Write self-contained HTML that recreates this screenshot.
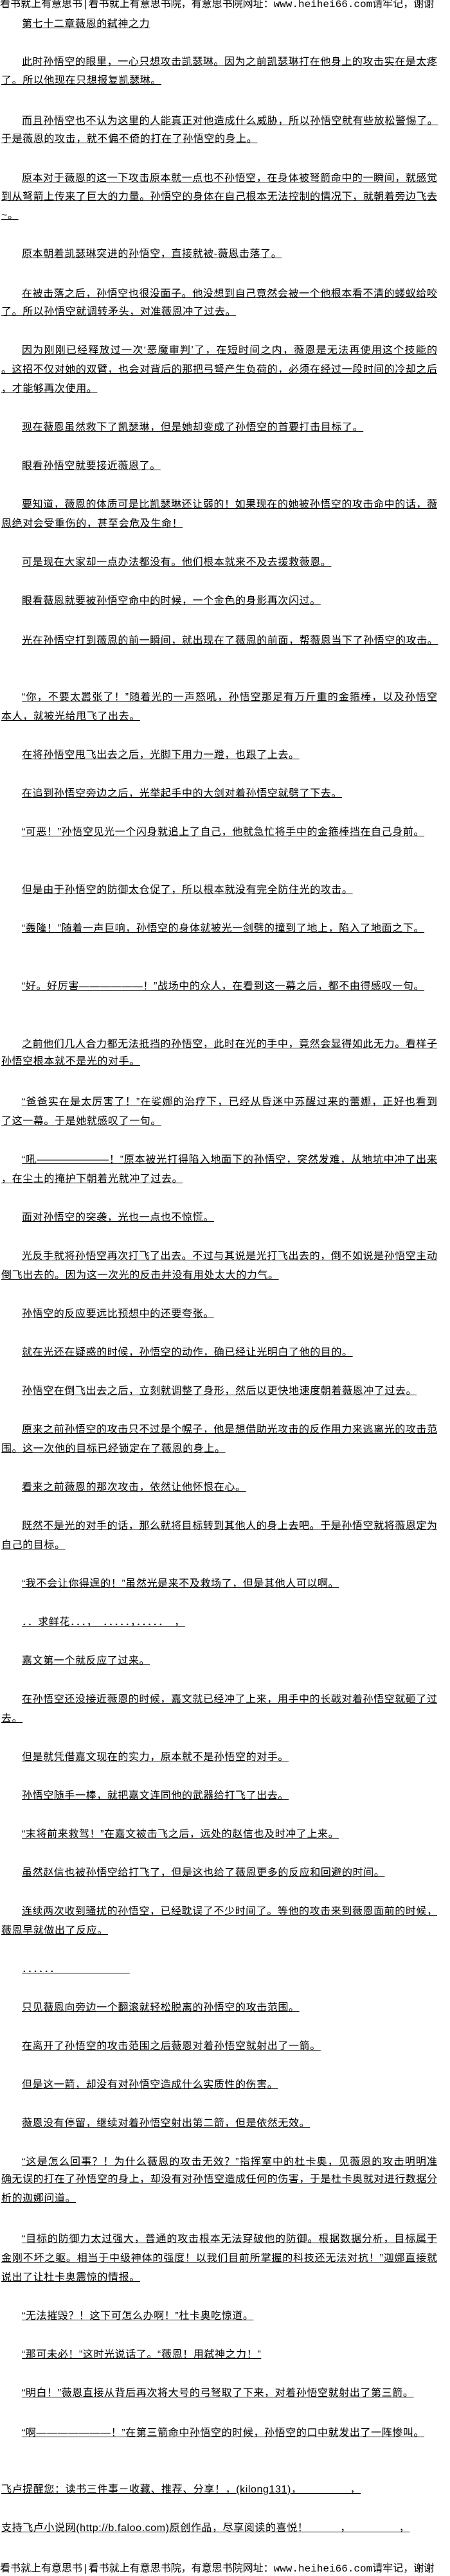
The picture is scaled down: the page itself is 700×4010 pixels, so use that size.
<!DOCTYPE html>
<html><head><meta charset="utf-8">
<style>
html,body{margin:0;padding:0;background:#fff;}
body{width:700px;height:4010px;position:relative;overflow:hidden;}
.l{position:absolute;font-size:16px;line-height:18px;height:19px;font-family:"Liberation Sans","Noto Sans CJK SC",sans-serif;color:#000;text-decoration:underline;white-space:nowrap;letter-spacing:0.6px;}
.i{left:34px;}
.n{left:2px;}
.f{white-space:normal;overflow:hidden;text-align:justify;text-align-last:justify;letter-spacing:0;}
.i.f{width:646px;}
.n.f{width:678px;}
.h{position:absolute;left:0;width:760px;font-size:16px;line-height:18px;font-family:"Liberation Mono","Noto Sans CJK SC",monospace;white-space:nowrap;color:#000;}
</style></head><body>
<div class="h" style="top:-2px">看书就上有意思书|看书就上有意思书院，有意思书院网址：www.heihei66.com请牢记，谢谢</div>
<div class="l i" style="top:29px">第七十二章薇恩的弑神之力</div>
<div class="l i f" style="top:88px">此时孙悟空的眼里，一心只想攻击凯瑟琳。因为之前凯瑟琳打在他身上的攻击实在是太疼</div>
<div class="l n" style="top:117px">了。所以他现在只想报复凯瑟琳。</div>
<div class="l i" style="top:180px">而且孙悟空也不认为这里的人能真正对他造成什么威胁，所以孙悟空就有些放松警惕了。</div>
<div class="l n" style="top:208px">于是薇恩的攻击，就不偏不倚的打在了孙悟空的身上。</div>
<div class="l i f" style="top:269px">原本对于薇恩的这一下攻击原本就一点也不孙悟空，在身体被弩箭命中的一瞬间，就感觉</div>
<div class="l n f" style="top:298px">到从弩箭上传来了巨大的力量。孙悟空的身体在自己根本无法控制的情况下，就朝着旁边飞去</div>
<div class="l n" style="top:327px">~。</div>
<div class="l i" style="top:387px">原本朝着凯瑟琳突进的孙悟空，直接就被-薇恩击落了。</div>
<div class="l i f" style="top:449px">在被击落之后，孙悟空也很没面子。他没想到自己竟然会被一个他根本看不清的蝼蚁给咬</div>
<div class="l n" style="top:477px">了。所以孙悟空就调转矛头，对准薇恩冲了过去。</div>
<div class="l i f" style="top:537px">因为刚刚已经释放过一次‘恶魔审判’了，在短时间之内，薇恩是无法再使用这个技能的</div>
<div class="l n f" style="top:567px">。这招不仅对她的双臂，也会对背后的那把弓弩产生负荷的，必须在经过一段时间的冷却之后</div>
<div class="l n" style="top:597px">，才能够再次使用。</div>
<div class="l i" style="top:657px">现在薇恩虽然救下了凯瑟琳，但是她却变成了孙悟空的首要打击目标了。</div>
<div class="l i" style="top:717px">眼看孙悟空就要接近薇恩了。</div>
<div class="l i f" style="top:777px">要知道，薇恩的体质可是比凯瑟琳还让弱的！如果现在的她被孙悟空的攻击命中的话，薇</div>
<div class="l n" style="top:807px">恩绝对会受重伤的，甚至会危及生命！</div>
<div class="l i" style="top:867px">可是现在大家却一点办法都没有。他们根本就来不及去援救薇恩。</div>
<div class="l i" style="top:927px">眼看薇恩就要被孙悟空命中的时候，一个金色的身影再次闪过。</div>
<div class="l i" style="top:989px">光在孙悟空打到薇恩的前一瞬间，就出现在了薇恩的前面，帮薇恩当下了孙悟空的攻击。</div>
<div class="l i f" style="top:1077px">“你，不要太嚣张了！”随着光的一声怒吼，孙悟空那足有万斤重的金箍棒，以及孙悟空</div>
<div class="l n" style="top:1107px">本人，就被光给甩飞了出去。</div>
<div class="l i" style="top:1167px">在将孙悟空甩飞出去之后，光脚下用力一蹬，也跟了上去。</div>
<div class="l i" style="top:1227px">在追到孙悟空旁边之后，光举起手中的大剑对着孙悟空就劈了下去。</div>
<div class="l i" style="top:1287px">“可恶！”孙悟空见光一个闪身就追上了自己，他就急忙将手中的金箍棒挡在自己身前。</div>
<div class="l i" style="top:1377px">但是由于孙悟空的防御太仓促了，所以根本就没有完全防住光的攻击。</div>
<div class="l i" style="top:1437px">“轰隆！”随着一声巨响，孙悟空的身体就被光一剑劈的撞到了地上，陷入了地面之下。</div>
<div class="l i" style="top:1527px">“好。好厉害——————！”战场中的众人，在看到这一幕之后，都不由得感叹一句。</div>
<div class="l i f" style="top:1617px">之前他们几人合力都无法抵挡的孙悟空，此时在光的手中，竟然会显得如此无力。看样子</div>
<div class="l n" style="top:1644px">孙悟空根本就不是光的对手。</div>
<div class="l i f" style="top:1707px">“爸爸实在是太厉害了！”在娑娜的治疗下，已经从昏迷中苏醒过来的蕾娜，正好也看到</div>
<div class="l n" style="top:1737px">了这一幕。于是她就感叹了一句。</div>
<div class="l i f" style="top:1797px">“吼———————！”原本被光打得陷入地面下的孙悟空，突然发难，从地坑中冲了出来</div>
<div class="l n" style="top:1827px">，在尘土的掩护下朝着光就冲了过去。</div>
<div class="l i" style="top:1887px">面对孙悟空的突袭，光也一点也不惊慌。</div>
<div class="l i f" style="top:1947px">光反手就将孙悟空再次打飞了出去。不过与其说是光打飞出去的，倒不如说是孙悟空主动</div>
<div class="l n" style="top:1977px">倒飞出去的。因为这一次光的反击并没有用处太大的力气。</div>
<div class="l i" style="top:2037px">孙悟空的反应要远比预想中的还要夸张。</div>
<div class="l i" style="top:2097px">就在光还在疑惑的时候，孙悟空的动作，确已经让光明白了他的目的。</div>
<div class="l i" style="top:2157px">孙悟空在倒飞出去之后，立刻就调整了身形，然后以更快地速度朝着薇恩冲了过去。</div>
<div class="l i f" style="top:2217px">原来之前孙悟空的攻击只不过是个幌子，他是想借助光攻击的反作用力来逃离光的攻击范</div>
<div class="l n" style="top:2247px">围。这一次他的目标已经锁定在了薇恩的身上。</div>
<div class="l i" style="top:2307px">看来之前薇恩的那次攻击，依然让他怀恨在心。</div>
<div class="l i f" style="top:2367px">既然不是光的对手的话，那么就将目标转到其他人的身上去吧。于是孙悟空就将薇恩定为</div>
<div class="l n" style="top:2397px">自己的目标。</div>
<div class="l i" style="top:2457px">“我不会让你得逞的！”虽然光是来不及救场了，但是其他人可以啊。</div>
<div class="l i" style="top:2517px">．．求鲜花．．．，　．．．．．，．．．．．　，</div>
<div class="l i" style="top:2577px">嘉文第一个就反应了过来。</div>
<div class="l i f" style="top:2637px">在孙悟空还没接近薇恩的时候，嘉文就已经冲了上来，用手中的长戟对着孙悟空就砸了过</div>
<div class="l n" style="top:2667px">去。</div>
<div class="l i" style="top:2727px">但是就凭借嘉文现在的实力，原本就不是孙悟空的对手。</div>
<div class="l i" style="top:2787px">孙悟空随手一棒，就把嘉文连同他的武器给打飞了出去。</div>
<div class="l i" style="top:2847px">“末将前来救驾！”在嘉文被击飞之后，远处的赵信也及时冲了上来。</div>
<div class="l i" style="top:2907px">虽然赵信也被孙悟空给打飞了，但是这也给了薇恩更多的反应和回避的时间。</div>
<div class="l i f" style="top:2967px">连续两次收到骚扰的孙悟空，已经耽误了不少时间了。等他的攻击来到薇恩面前的时候，</div>
<div class="l n" style="top:2997px">薇恩早就做出了反应。</div>
<div class="l i" style="top:3057px">．．．．．．　　　　　　　</div>
<div class="l i" style="top:3117px">只见薇恩向旁边一个翻滚就轻松脱离的孙悟空的攻击范围。</div>
<div class="l i" style="top:3177px">在离开了孙悟空的攻击范围之后薇恩对着孙悟空就射出了一箭。</div>
<div class="l i" style="top:3237px">但是这一箭，却没有对孙悟空造成什么实质性的伤害。</div>
<div class="l i" style="top:3297px">薇恩没有停留，继续对着孙悟空射出第二箭，但是依然无效。</div>
<div class="l i f" style="top:3357px">“这是怎么回事？！为什么薇恩的攻击无效？”指挥室中的杜卡奥，见薇恩的攻击明明准</div>
<div class="l n f" style="top:3384px">确无误的打在了孙悟空的身上，却没有对孙悟空造成任何的伤害，于是杜卡奥就对进行数据分</div>
<div class="l n" style="top:3414px">析的迦娜问道。</div>
<div class="l i f" style="top:3477px">“目标的防御力太过强大，普通的攻击根本无法穿破他的防御。根据数据分析，目标属于</div>
<div class="l n f" style="top:3507px">金刚不坏之躯。相当于中级神体的强度！以我们目前所掌握的科技还无法对抗！”迦娜直接就</div>
<div class="l n" style="top:3537px">说出了让杜卡奥震惊的情报。</div>
<div class="l i" style="top:3597px">“无法摧毁？！这下可怎么办啊！”杜卡奥吃惊道。</div>
<div class="l i" style="top:3657px">“那可未必！”这时光说话了。“薇恩！用弑神之力！”</div>
<div class="l i" style="top:3717px">“明白！”薇恩直接从背后再次将大号的弓弩取了下来，对着孙悟空就射出了第三箭。</div>
<div class="l i" style="top:3779px">“啊———————！”在第三箭命中孙悟空的时候，孙悟空的口中就发出了一阵惨叫。</div>
<div class="l n" style="top:3867px">飞卢提醒您：读书三件事－收藏、推荐、分享！，(kilong131)，　　　　　，</div>
<div class="l n" style="top:3927px">支持飞卢小说网(http://b.faloo.com)原创作品，尽享阅读的喜悦！　　　，　　　　　，</div>
<div class="h" style="top:3990px">看书就上有意思书|看书就上有意思书院，有意思书院网址：www.heihei66.com请牢记，谢谢</div>
</body></html>
